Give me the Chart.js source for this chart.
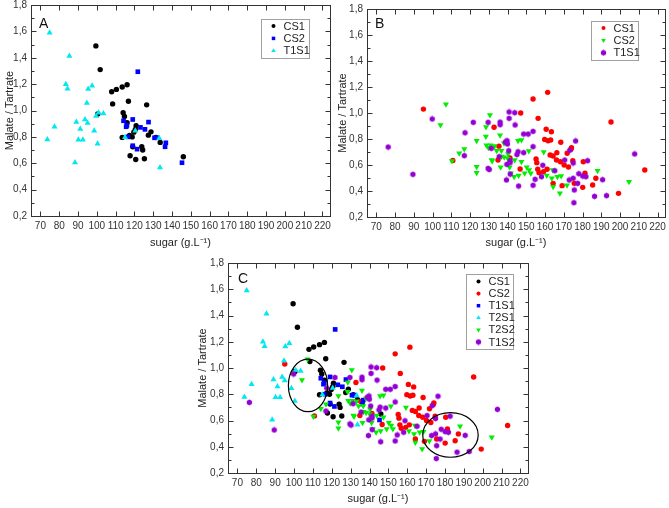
<!DOCTYPE html>
<html>
<head>
<meta charset="utf-8">
<script src="https://cdn.jsdelivr.net/npm/chart.js@4/dist/chart.umd.min.js"></script>
<style>
  html, body { margin: 0; padding: 0; background: #fff; }
  body { width: 669px; height: 508px; position: relative; overflow: hidden; }
  canvas { position: absolute; }
</style>
</head>
<body>
<canvas id="chartA" width="334" height="252" style="left:0;top:0"></canvas>
<canvas id="chartB" width="333" height="252" style="left:336px;top:0"></canvas>
<canvas id="chartC" width="340" height="256" style="left:195px;top:252px"></canvas>
<script>
// axis setup
const xRange = [65, 224]
const yRange = [0.2, 1.8]
const xTickValues = [70, 80, 90, 100, 110, 120, 130, 140, 150, 160, 170, 180, 190, 200, 210, 220]
const yTickValues = [0.2, 0.4, 0.6, 0.8, 1.0, 1.2, 1.4, 1.6, 1.8]
const yMinorValues = [0.3, 0.5, 0.7, 0.9, 1.1, 1.3, 1.5, 1.7]

// series, named as in panel C  [sugar g/L, malate/tartrate]
const cs1 = [[99.5,1.49],[101.8,1.31],[107.9,1.142],[110.4,1.16],[113.5,1.178],[116.1,1.195],[116.8,1.07],[108.4,1.05],
  [126.5,1.043],[100.5,0.973],[114,0.983],[114.7,0.955],[116.1,0.907],[120.9,0.884],[113.5,0.796],[117.4,0.81],[118.8,0.80],
  [119.7,0.836],[120.5,0.857],[127.4,0.813],[128.8,0.838],[131.4,0.796],[133.7,0.758],[119.1,0.725],[117.7,0.657],
  [120.7,0.629],[123.9,0.725],[124.4,0.70],[125.3,0.634],[146,0.649]]
const cs2 = [[95.1,1.03],[110.8,0.635],[132.8,0.89],[135.4,0.745],[134.9,0.638],[141.3,0.654],[146.7,0.569],[147,1.0],
  [153.6,1.108],[161.4,1.159],[156.3,0.959],[160.6,0.875],[163.4,0.856],[163,0.792],[159.8,0.797],[161.6,0.787],[168.4,0.775],
  [162.7,0.677],[166.3,0.695],[164.3,0.669],[166.1,0.638],[168.2,0.625],[171.8,0.69],[173.8,0.721],[170.2,0.60],[172.5,0.585],
  [174.8,0.633],[169.1,0.441],[164.3,0.459],[155.2,0.646],[155.6,0.618],[156.1,0.567],[156.8,0.541],[159.2,0.548],[161.1,0.567],
  [195.2,0.931],[174.1,0.733],[180.4,0.625],[181.3,0.536],[187.1,0.498],[175.6,0.459],[180.1,0.428],[185.4,0.446],[213.2,0.562],
  [199.2,0.382]]
const t1s1 = [[121.8,1.294],[114.2,0.922],[119.1,0.932],[115.6,0.877],[116,0.887],[123.2,0.872],[125.6,0.857],[127.5,0.912],
  [116.5,0.80],[119.1,0.733],[121.4,0.707],[130.7,0.793],[132.2,0.793],[136.7,0.755],[136.3,0.725],[145.3,0.604]]
const t2s1 = [[74.9,1.59],[85.4,1.413],[83.5,1.20],[84.4,1.165],[97.5,1.188],[95.4,1.163],[94.7,1.056],[100.9,0.983],
  [103.5,0.978],[99.6,0.958],[77.5,0.877],[89.1,0.912],[93.7,0.932],[95.1,0.905],[91.2,0.859],[98.6,0.846],[73.7,0.78],
  [90.2,0.778],[92.6,0.778],[100.4,0.748],[88.4,0.606],[115,0.797],[120.5,0.847],[133.2,0.79],[133.6,0.568]]
const t2s2 = [[107.1,1.067],[104.2,0.908],[123.5,0.787],[116.9,0.723],[114.2,0.69],[110.3,0.631],[123.5,0.587],[123.5,0.541],
  [130.6,0.985],[128.5,0.892],[136,0.828],[128.4,0.82],[128.7,0.751],[131,0.751],[133.1,0.746],[138.1,0.767],[134.2,0.71],
  [136.7,0.71],[145.6,0.787],[147.4,0.792],[140.3,0.685],[151.3,0.708],[159.3,0.70],[129.8,0.732],[136.8,0.666],[138.2,0.66],
  [140.2,0.648],[131.5,0.638],[131.8,0.63],[136.3,0.582],[141.1,0.582],[141.7,0.536],[143.5,0.51],[145.9,0.52],[147.4,0.625],
  [150.2,0.582],[151.5,0.562],[152.4,0.536],[149.1,0.536],[143.8,0.638],[164.1,0.562],[160.9,0.52],[163.6,0.498],[166.6,0.51],
  [164.3,0.433],[167.9,0.382],[188,0.556],[204.8,0.472],[171.7,0.444],[168.6,0.515]]
const t1s2 = [[76.3,0.738],[89.5,0.528],[99.8,0.954],[121.7,0.928],[117.3,0.848],[116.9,0.672],[140.8,1.008],[143.8,1.002],
  [129.6,0.928],[136,0.93],[136,0.91],[140.8,0.959],[144,0.908],[148.6,0.838],[151,0.838],[153.6,0.859],[176.3,0.785],
  [131.3,0.728],[138.8,0.777],[139.9,0.762],[139.7,0.787],[140.6,0.71],[145.6,0.702],[148.6,0.695],[153.6,0.741],[173.2,0.713],
  [170.5,0.638],[172.9,0.485],[175,0.498],[178,0.533],[158.8,0.598],[158.1,0.51],[154.7,0.49],[165.2,0.556],[135.5,0.664],
  [141.3,0.633],[129.6,0.574],[130.2,0.565],[139.4,0.485],[145.9,0.438],[153.6,0.444],[139.6,0.605],[141.3,0.618],[141.4,0.53],
  [145,0.68],[207.8,0.685],[182.7,0.633],[175,0.615],[180.1,0.515],[181.8,0.51],[190.7,0.487],[177.4,0.459],[175.6,0.408],
  [186.4,0.359],[192.8,0.364],[175.4,0.31]]

// circled groups in panel C: [centre sugar, centre ratio, half width, half height]
const ellipsesC = [[107.4, 0.867, 10.4, 0.2], [182.9, 0.49, 14.7, 0.17]]

const FONT = "'Liberation Sans', Arial, sans-serif"

const hexagon = (() => {
  const c = document.createElement("canvas")
  c.width = c.height = 7
  const g = c.getContext("2d")
  g.fillStyle = "#9400d3"
  g.beginPath()
  for (let i = 0; i < 6; i++) {
    const a = Math.PI / 3 * i + Math.PI / 6
    g.lineTo(3.5 + 3 * Math.cos(a), 3.5 + 3 * Math.sin(a))
  }
  g.fill()
  return c
})()

const styles = {
  black: { color: "#000000", pointStyle: "circle", pointRadius: 2.7 },
  red: { color: "#ff0000", pointStyle: "circle", pointRadius: 2.7 },
  blue: { color: "#0000ff", pointStyle: "rect", pointRadius: 3.3 },
  cyan: { color: "#00e8f0", pointStyle: "triangle", pointRadius: 3.5 },
  green: { color: "#00ee00", pointStyle: "triangle", pointRadius: 3.5, pointRotation: 180 },
  purple: { color: "#9400d3", pointStyle: hexagon, pointRadius: 3 },
}

const toPoints = arr => arr.map(([x, y]) => ({ x, y }))

const framePlugin = {
  id: "frame",
  beforeDatasetsDraw(chart) {
    const { ctx, chartArea: a, scales: { x, y } } = chart
    const L = Math.round(a.left) + 0.5, R = Math.round(a.right) + 0.5
    const T = Math.round(a.top) + 0.5, B = Math.round(a.bottom) + 0.5
    ctx.save()
    ctx.strokeStyle = "#333"
    ctx.lineWidth = 1
    ctx.strokeRect(L, T, R - L, B - T)
    ctx.beginPath()
    xTickValues.forEach(v => {
      const px = Math.round(x.getPixelForValue(v)) + 0.5
      ctx.moveTo(px, B); ctx.lineTo(px, B - 5)
      ctx.moveTo(px, T); ctx.lineTo(px, T + 5)
    })
    yTickValues.forEach(v => {
      const py = Math.round(y.getPixelForValue(v)) + 0.5
      ctx.moveTo(L, py); ctx.lineTo(L + 5, py)
      ctx.moveTo(R, py); ctx.lineTo(R - 5, py)
    })
    yMinorValues.forEach(v => {
      const py = Math.round(y.getPixelForValue(v)) + 0.5
      ctx.moveTo(L, py); ctx.lineTo(L + 3, py)
      ctx.moveTo(R, py); ctx.lineTo(R - 3, py)
    })
    ctx.stroke()
    ctx.restore()
  },
}

const extrasPlugin = {
  id: "extras",
  afterDraw(chart, args, opts) {
    const { ctx, chartArea: a, scales: { x, y } } = chart
    ctx.save()
    // circled groups
    ctx.strokeStyle = "#000"
    ctx.lineWidth = 1.2
    ;(opts.ellipses || []).forEach(([cx, cy, rx, ry]) => {
      const px = x.getPixelForValue(cx), py = y.getPixelForValue(cy)
      const prx = Math.abs(x.getPixelForValue(cx + rx) - px)
      const pry = Math.abs(y.getPixelForValue(cy + ry) - py)
      ctx.beginPath()
      ctx.ellipse(px, py, prx, pry, 0, 0, Math.PI * 2)
      ctx.stroke()
    })
    // panel letter
    ctx.fillStyle = "#111"
    ctx.font = "14px " + FONT
    ctx.textBaseline = "alphabetic"
    ctx.fillText(opts.letter, a.left + opts.letterDx, a.top + opts.letterDy)
    // legend box
    const sets = chart.data.datasets
    const lg = opts.legend
    const x0 = Math.round(a.right - lg.right - lg.width) + 0.5
    const y0 = Math.round(a.top + lg.top) + 0.5
    const h = Math.round(sets.length * lg.row + 2)
    ctx.fillStyle = "#fff"
    ctx.fillRect(x0, y0, lg.width, h)
    ctx.strokeStyle = "#a0a0a0"
    ctx.lineWidth = 1
    ctx.strokeRect(x0, y0, lg.width, h)
    ctx.font = "11px " + FONT
    ctx.textBaseline = "middle"
    sets.forEach((ds, i) => {
      const cy = y0 + lg.first + i * lg.row
      ctx.fillStyle = ds.backgroundColor
      Chart.helpers.drawPoint(ctx, {
        pointStyle: ds.pointStyle, radius: ds.pointRadius * 0.75,
        rotation: ds.pointRotation || 0, borderWidth: 0,
      }, x0 + 12, cy)
      ctx.fillStyle = "#222"
      ctx.fillText(ds.label, x0 + 22, cy + 0.5)
    })
    ctx.restore()
  },
}

const makeChart = (id, series, opt) => {
  const datasets = series.map(([label, data, st], i) => ({
    label: label,
    data: toPoints(data),
    backgroundColor: st.color,
    borderColor: st.color,
    borderWidth: 0,
    pointStyle: st.pointStyle,
    pointRadius: st.pointRadius,
    pointRotation: st.pointRotation || 0,
    order: -i,
  }))

  return new Chart(document.getElementById(id), {
    type: "scatter",
    data: { datasets: datasets },
    plugins: [framePlugin, extrasPlugin],
    options: {
      responsive: false,
      animation: false,
      events: [],
      layout: { padding: opt.padding },
      scales: {
        x: {
          type: "linear",
          min: xRange[0],
          max: xRange[1],
          grid: { display: false, drawTicks: false },
          border: { display: false },
          afterBuildTicks: s => { s.ticks = xTickValues.map(v => ({ value: v })) },
          afterFit: s => { s.height = opt.xHeight; s.paddingLeft = 0; s.paddingRight = 0 },
          ticks: { font: { family: FONT, size: 10 }, color: "#333", padding: 4, maxRotation: 0, autoSkip: false },
          title: {
            display: true, text: "sugar (g.L\u207B\u00B9)", color: "#222",
            font: { family: FONT, size: 11 }, padding: { top: 0, bottom: 2 },
          },
        },
        y: {
          type: "linear",
          min: yRange[0],
          max: yRange[1],
          grid: { display: false, drawTicks: false },
          border: { display: false },
          afterBuildTicks: s => { s.ticks = yTickValues.map(v => ({ value: v })) },
          afterFit: s => { s.width = opt.yWidth; s.paddingTop = 0; s.paddingBottom = 0 },
          ticks: {
            font: { family: FONT, size: 10 }, color: "#333", padding: 4,
            callback: v => v.toFixed(1).replace(".", ","),
          },
          title: {
            display: true, text: "Malate / Tartrate", color: "#222",
            font: { family: FONT, size: 11 }, padding: { top: opt.yTitlePad, bottom: 0 },
          },
        },
      },
      plugins: {
        legend: { display: false },
        tooltip: { enabled: false },
        extras: opt.extras,
      },
    },
  })
}

makeChart("chartA", [
  ["CS1", cs1, styles.black],
  ["CS2", t1s1, styles.blue],
  ["T1S1", t2s1, styles.cyan],
], {
  padding: { left: 0, top: 5, right: 4, bottom: 0 }, yWidth: 31, xHeight: 36, yTitlePad: 3,
  extras: { letter: "A", letterDx: 8, letterDy: 23, legend: { right: 21, top: 14, width: 48, row: 12.4, first: 6.5 } },
})

makeChart("chartB", [
  ["CS1", cs2, styles.red],
  ["CS2", t2s2, styles.green],
  ["T1S1", t1s2, styles.purple],
], {
  padding: { left: 0, top: 9, right: 3, bottom: 0 }, yWidth: 31, xHeight: 35, yTitlePad: 0,
  extras: { letter: "B", letterDx: 8, letterDy: 19, legend: { right: 27, top: 12, width: 47, row: 12.4, first: 6.5 } },
})

makeChart("chartC", [
  ["CS1", cs1, styles.black],
  ["CS2", cs2, styles.red],
  ["T1S1", t1s1, styles.blue],
  ["T2S1", t2s1, styles.cyan],
  ["T2S2", t2s2, styles.green],
  ["T1S2", t1s2, styles.purple],
], {
  padding: { left: 0, top: 11, right: 7, bottom: 0 }, yWidth: 33, xHeight: 35, yTitlePad: 1.5,
  extras: {
    letter: "C", letterDx: 10, letterDy: 20, ellipses: ellipsesC,
    legend: { right: 15, top: 11, width: 47, row: 12.1, first: 7 },
  },
})
</script>
</body>
</html>
